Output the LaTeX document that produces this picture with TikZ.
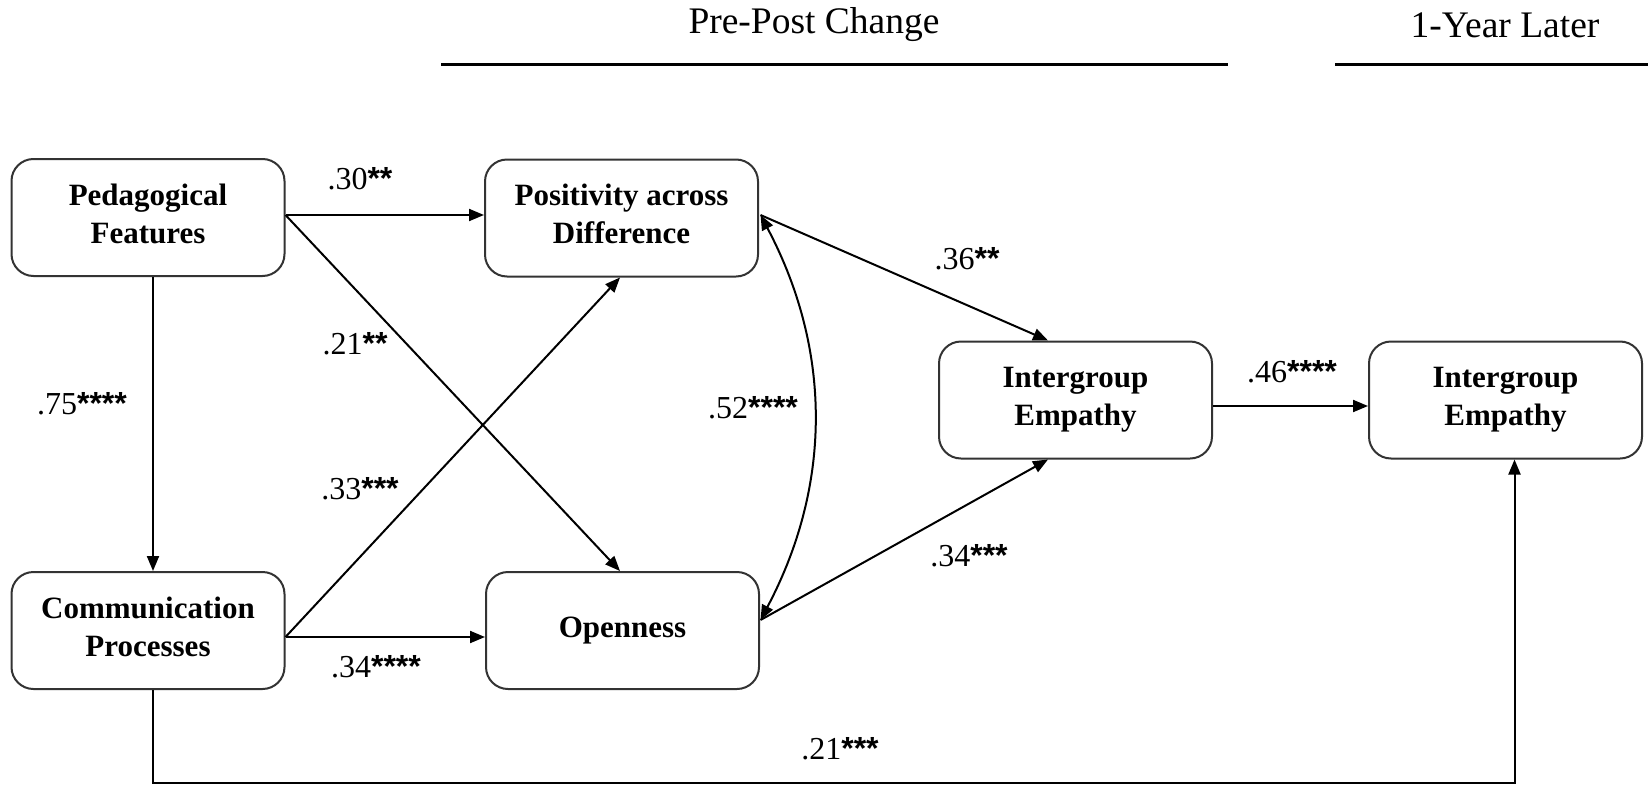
\documentclass[tikz,border=0pt]{standalone}
\usepackage{fontspec}
\setmainfont{Liberation Serif}
\newfontfamily\starfont{Liberation Sans}
\usetikzlibrary{arrows.meta,calc}
\newcommand\stars[1]{{\starfont\bfseries #1}}
\begin{document}
\begin{tikzpicture}[x=1pt,y=-1pt,
  box/.style={draw=black!80, line width=2pt, rounded corners=22pt, minimum width=273pt, minimum height=117pt, align=center, font=\fontsize{31}{38}\selectfont\bfseries, inner sep=0pt},
  boxtwo/.style={box, text depth=8pt},
  conn/.style={line width=2pt, -{Triangle[length=15pt,width=12pt]}},
  dconn/.style={line width=2pt, {Triangle[length=15pt,width=12pt]}-{Triangle[length=15pt,width=12pt]}},
  coef/.style={font=\fontsize{32}{38}\selectfont, inner sep=0pt},
  head/.style={font=\fontsize{37.5}{44}\selectfont, inner sep=0pt},
  rule/.style={line width=3pt}
]
\useasboundingbox (0,0) rectangle (1648,787);

% headers
\node[head] (hpre) at (814,25) {Pre-Post Change};
\node[head] (hyear) at (1505,25) {1-Year Later};
\draw[rule] (441,64) -- (1228,64);
\draw[rule] (1335,64) -- (1648,64);

% boxes
\node[boxtwo] (ped) at (148,217.5) {Pedagogical\\Features};
\node[boxtwo] (pos) at (621.5,218) {Positivity across\\Difference};
\node[boxtwo] (comm) at (148,630.5) {Communication\\Processes};
\node[box] (open) at (622.5,630.5) {Openness};
\node[box] (ig1) at (1075.5,400) {Intergroup\\Empathy};
\node[box] (ig2) at (1505.5,400) {Intergroup\\Empathy};

% connectors
\draw[conn] ($(ped.east)+(0,-2.5)$) -- ($(pos.west)+(0,-3)$);
\draw[conn] ($(ped.east)+(0,-2.5)$) -- ($(open.north)+(-2.5,0)$);
\draw[conn] ($(comm.east)+(0,6.5)$) -- ($(pos.south)+(-1.5,0)$);
\draw[conn] ($(comm.east)+(0,6.5)$) -- ($(open.west)+(0,6.5)$);
\draw[conn] ($(ped.south)+(5,0)$) -- ($(comm.north)+(5,0)$);
\draw[conn] ($(pos.east)+(1.5,-3)$) -- ($(ig1.north)+(-27.5,0)$);
\draw[conn] ($(open.east)+(0.5,-10.5)$) -- ($(ig1.south)+(-27.5,0)$);
\draw[conn] ($(ig1.east)+(0,6)$) -- ($(ig2.west)+(0,6)$);
\draw[dconn] ($(pos.east)+(1.5,-3)$) .. controls (832,350) and (832,485) .. ($(open.east)+(0.5,-10.5)$);
\coordinate (bot) at (0,783);
\coordinate (cs) at ($(comm.south)+(5,0)$);
\coordinate (is) at ($(ig2.south)+(9,0)$);
\draw[conn] (cs) -- (cs |- bot) -- (is |- bot) -- (is);

% coefficients
\node[coef] (c1) at (360,179) {.30\stars{**}};
\node[coef] (c2) at (355,344) {.21\stars{**}};
\node[coef] (c3) at (82,404) {.75\stars{****}};
\node[coef] (c4) at (360,489) {.33\stars{***}};
\node[coef] (c5) at (376,667) {.34\stars{****}};
\node[coef] (c6) at (753,408) {.52\stars{****}};
\node[coef] (c7) at (967,259) {.36\stars{**}};
\node[coef] (c8) at (969,556) {.34\stars{***}};
\node[coef] (c9) at (1292,372) {.46\stars{****}};
\node[coef] (c10) at (840,749) {.21\stars{***}};
\end{tikzpicture}
\end{document}
